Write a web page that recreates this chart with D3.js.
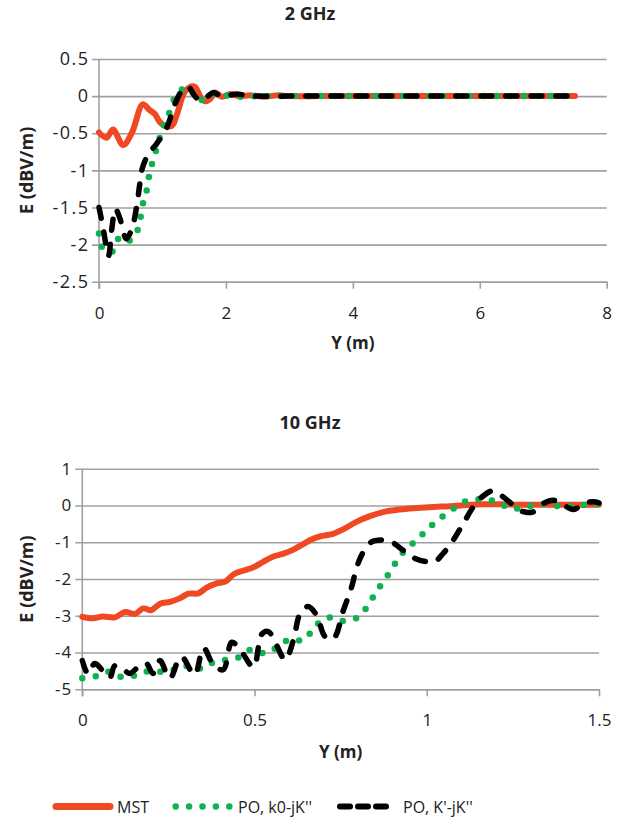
<!DOCTYPE html>
<html>
<head>
<meta charset="utf-8">
<script src="https://cdn.jsdelivr.net/npm/d3@7/dist/d3.min.js"></script>
<style>
  html, body { margin: 0; padding: 0; background: #fff; }
  svg { display: block; }
  text { font-family: "Open Sans", "Noto Sans", sans-serif; fill: #222; }
</style>
</head>
<body>
<svg id="chart" width="629" height="821"></svg>
<script>
// ---- 2 GHz panel ----
const xTicks2 = [0, 2, 4, 6, 8];
const yTicks2 = [0.5, 0, -0.5, -1, -1.5, -2, -2.5];
const mst2 = [[0,-0.49],[0.12,-0.56],[0.22,-0.45],[0.38,-0.66],[0.52,-0.49],[0.69,-0.11],[0.8,-0.19],[0.88,-0.24],[0.96,-0.35],[1.04,-0.4],[1.15,-0.4],[1.23,-0.24],[1.36,0.07],[1.5,0.13],[1.6,-0.01],[1.67,-0.07],[1.75,-0.04],[1.83,0.05],[1.94,-0.01],[2.07,0.03],[2.2,0],[2.4,0.01],[2.6,-0.01],[2.8,0.01],[3.0,0],[3.5,0],[4.0,0],[4.5,0],[5.0,0],[5.5,0],[6.0,0],[6.5,0],[7.0,0],[7.5,0]];
const poK0_2 = [[0,-1.85],[0.07,-2.07],[0.2,-2.1],[0.33,-1.9],[0.46,-1.95],[0.58,-1.86],[0.65,-1.65],[0.7,-1.42],[0.76,-1.24],[0.8,-1.02],[0.87,-0.82],[0.94,-0.61],[1.02,-0.4],[1.12,-0.2],[1.21,0],[1.38,0.12],[1.5,0.02],[1.57,-0.06],[1.7,-0.02],[1.8,0.03],[1.99,0.01],[2.25,-0.01],[2.5,0],[3.0,0],[3.5,0],[4.0,0],[4.5,0],[5.0,0],[5.5,0],[6.0,0],[6.5,0],[7.0,0],[7.45,0]];
const poK1_2 = [[0,-1.5],[0.06,-1.75],[0.15,-2.15],[0.2,-1.8],[0.26,-1.52],[0.33,-1.65],[0.43,-1.92],[0.52,-1.78],[0.6,-1.45],[0.64,-1.2],[0.68,-0.98],[0.78,-0.78],[0.91,-0.64],[1.07,-0.42],[1.2,-0.1],[1.33,0.1],[1.41,0.12],[1.52,-0.01],[1.6,-0.06],[1.7,-0.01],[1.8,0.05],[1.9,0.01],[2.0,0],[2.17,0.03],[2.3,0.01],[2.5,0],[3.0,0],[3.5,0],[4.0,0],[4.5,0],[5.0,0],[5.5,0],[6.0,0],[6.5,0],[7.0,0],[7.42,0]];

// ---- 10 GHz panel ----
const xTicks10 = [0, 0.5, 1, 1.5];
const yTicks10 = [1, 0, -1, -2, -3, -4, -5];
const mst10 = [[0,-3.03],[0.03,-3.07],[0.06,-3.02],[0.095,-3.04],[0.124,-2.9],[0.153,-2.95],[0.177,-2.8],[0.2,-2.85],[0.226,-2.67],[0.255,-2.62],[0.284,-2.52],[0.308,-2.4],[0.337,-2.39],[0.36,-2.24],[0.39,-2.12],[0.415,-2.07],[0.44,-1.87],[0.468,-1.77],[0.497,-1.68],[0.526,-1.53],[0.555,-1.39],[0.584,-1.31],[0.613,-1.2],[0.64,-1.06],[0.667,-0.92],[0.69,-0.84],[0.728,-0.77],[0.757,-0.65],[0.797,-0.44],[0.835,-0.29],[0.873,-0.18],[0.922,-0.11],[0.971,-0.07],[1.019,-0.04],[1.067,-0.02],[1.116,0.01],[1.164,0.03],[1.212,0.03],[1.26,0.02],[1.31,0.02],[1.36,0.02],[1.41,0.02],[1.46,0.02],[1.5,0.02]];
const poK0_10 = [[0,-4.7],[0.041,-4.64],[0.08,-4.52],[0.111,-4.66],[0.147,-4.64],[0.186,-4.52],[0.229,-4.52],[0.261,-4.48],[0.30,-4.37],[0.347,-4.43],[0.385,-4.25],[0.451,-4.14],[0.49,-3.92],[0.533,-4.02],[0.598,-3.66],[0.644,-3.66],[0.673,-3.32],[0.71,-3.05],[0.753,-3.14],[0.799,-3.05],[0.828,-2.74],[0.853,-2.35],[0.879,-2.01],[0.905,-1.62],[0.93,-1.29],[0.964,-0.99],[0.998,-0.69],[1.029,-0.42],[1.071,-0.13],[1.109,0.1],[1.155,0.17],[1.203,0.1],[1.244,-0.08],[1.29,-0.04],[1.334,0.05],[1.382,-0.02],[1.426,-0.02],[1.474,0.04],[1.5,0.03]];
const poK1_10 = [[0,-4.22],[0.017,-4.58],[0.036,-4.3],[0.06,-4.5],[0.08,-4.68],[0.094,-4.36],[0.115,-4.42],[0.137,-4.57],[0.162,-4.4],[0.186,-4.3],[0.205,-4.57],[0.225,-4.22],[0.254,-4.7],[0.28,-4.18],[0.29,-4.12],[0.326,-4.6],[0.352,-3.88],[0.38,-4.32],[0.409,-4.47],[0.434,-3.72],[0.46,-3.95],[0.497,-4.39],[0.521,-3.5],[0.54,-3.43],[0.564,-3.8],[0.589,-4.2],[0.613,-3.66],[0.632,-2.95],[0.655,-2.75],[0.68,-2.98],[0.705,-3.57],[0.729,-3.62],[0.758,-2.85],[0.782,-2.21],[0.797,-1.67],[0.816,-1.26],[0.84,-0.99],[0.869,-0.94],[0.893,-0.97],[0.918,-1.12],[0.942,-1.3],[0.966,-1.44],[1.0,-1.53],[1.024,-1.52],[1.048,-1.3],[1.077,-0.94],[1.106,-0.49],[1.135,-0.04],[1.16,0.23],[1.193,0.4],[1.222,0.23],[1.251,0.01],[1.28,-0.17],[1.31,-0.17],[1.338,0.05],[1.368,0.14],[1.397,0.01],[1.426,-0.11],[1.455,0.05],[1.484,0.1],[1.5,0.07]];

const seriesNames = ["MST", "PO, k0-jK''", "PO, K'-jK''"];
const colors = { mst: "#f04822", k0: "#10b14f", k1: "#000000" };
const gridColor = "#a0a0a0";

const svg = d3.select("#chart");

function panel(cfg) {
  const x = d3.scaleLinear().domain(cfg.xDomain).range([cfg.left, cfg.right]);
  const y = d3.scaleLinear().domain(cfg.yDomain).range([cfg.bottom, cfg.top]);
  const g = svg.append("g");

  // horizontal gridlines with left tick stubs
  const yAxis = d3.axisLeft(y).tickValues(cfg.yTicks).tickSizeInner(-(cfg.right - cfg.left)).tickSizeOuter(0)
    .tickFormat(d => String(d));
  const ya = g.append("g").attr("transform", `translate(${cfg.left},0)`).call(yAxis);
  ya.select(".domain").remove();
  ya.selectAll(".tick line").attr("x1", -7).attr("stroke", gridColor).attr("stroke-width", 1.6);
  ya.selectAll(".tick text").attr("x", -11 + cfg.yTickSpacing).attr("font-size", cfg.yTickSize).attr("fill", "#222")
    .attr("letter-spacing", cfg.yTickSpacing)
    .attr("font-family", "Open Sans, sans-serif");

  // vertical axis line
  g.append("line").attr("x1", cfg.left).attr("x2", cfg.left).attr("y1", cfg.top).attr("y2", cfg.bottom + 7)
    .attr("stroke", gridColor).attr("stroke-width", 1.6);

  // x axis
  const xAxis = d3.axisBottom(x).tickValues(cfg.xTicks).tickSizeInner(7).tickSizeOuter(0).tickPadding(18)
    .tickFormat(d => String(d));
  const xa = g.append("g").attr("transform", `translate(0,${cfg.bottom})`).call(xAxis);
  xa.select(".domain").attr("stroke", gridColor).attr("stroke-width", 1.6);
  xa.selectAll(".tick line").attr("stroke", gridColor).attr("stroke-width", 1.6);
  xa.selectAll(".tick text").attr("font-size", 17).attr("fill", "#222")
    .attr("font-family", "Open Sans, sans-serif");

  const line = d3.line().x(d => x(d[0])).y(d => y(d[1])).curve(d3.curveCatmullRom.alpha(0.5));

  g.append("path").datum(cfg.mst).attr("d", line).attr("fill", "none")
    .attr("stroke", colors.mst).attr("stroke-width", 6).attr("stroke-linejoin", "round").attr("stroke-linecap", "round");
  g.append("path").datum(cfg.k0).attr("d", line).attr("fill", "none")
    .attr("stroke", colors.k0).attr("stroke-width", 6.5).attr("stroke-dasharray", "0,13.5").attr("stroke-linecap", "round");
  g.append("path").datum(cfg.k1).attr("d", line).attr("fill", "none")
    .attr("stroke", colors.k1).attr("stroke-width", 5.5).attr("stroke-dasharray", "11,14").attr("stroke-linecap", "round").attr("stroke-linejoin", "round");

  // titles
  g.append("text").attr("x", 310).attr("y", cfg.titleY).attr("text-anchor", "middle")
    .attr("font-size", 18).attr("font-weight", "bold").text(cfg.title);
  g.append("text").attr("x", (cfg.left + cfg.right) / 2).attr("y", cfg.xLabelY).attr("text-anchor", "middle")
    .attr("font-size", 17).attr("font-weight", "bold").text("Y (m)");
  g.append("text").attr("transform", `translate(33,${(cfg.top + cfg.bottom) / 2}) rotate(-90)`)
    .attr("text-anchor", "middle").attr("font-size", 18).attr("font-weight", "bold").text("E (dBV/m)");
}

panel({ title: "2 GHz", titleY: 20, xLabelY: 349, yTickSpacing: 1.5, yTickSize: 18,
  left: 99, right: 606.7, top: 59, bottom: 281.7,
  xDomain: [0, 8], yDomain: [-2.5, 0.5], xTicks: xTicks2, yTicks: yTicks2,
  mst: mst2, k0: poK0_2, k1: poK1_2 });

panel({ title: "10 GHz", titleY: 429, xLabelY: 758, yTickSpacing: 1, yTickSize: 17,
  left: 82.3, right: 599, top: 468.7, bottom: 689.3,
  xDomain: [0, 1.5], yDomain: [-5, 1], xTicks: xTicks10, yTicks: yTicks10,
  mst: mst10, k0: poK0_10, k1: poK1_10 });

// legend
const lg = svg.append("g");
const ly = 806.5;
lg.append("line").attr("x1", 56).attr("x2", 110).attr("y1", ly).attr("y2", ly)
  .attr("stroke", colors.mst).attr("stroke-width", 7).attr("stroke-linecap", "round");
lg.append("text").attr("x", 117).attr("y", ly + 6).attr("font-size", 16).text(seriesNames[0]);
lg.append("line").attr("x1", 175.7).attr("x2", 229.4).attr("y1", ly).attr("y2", ly)
  .attr("stroke", colors.k0).attr("stroke-width", 6.5).attr("stroke-dasharray", "0,13.4").attr("stroke-linecap", "round");
lg.append("text").attr("x", 238).attr("y", ly + 6).attr("font-size", 16).text(seriesNames[1]);
lg.append("line").attr("x1", 340).attr("x2", 386).attr("y1", ly).attr("y2", ly)
  .attr("stroke", colors.k1).attr("stroke-width", 6).attr("stroke-dasharray", "10,8").attr("stroke-linecap", "round");
lg.append("text").attr("x", 403).attr("y", ly + 6).attr("font-size", 16).text(seriesNames[2]);
</script>
</body>
</html>
